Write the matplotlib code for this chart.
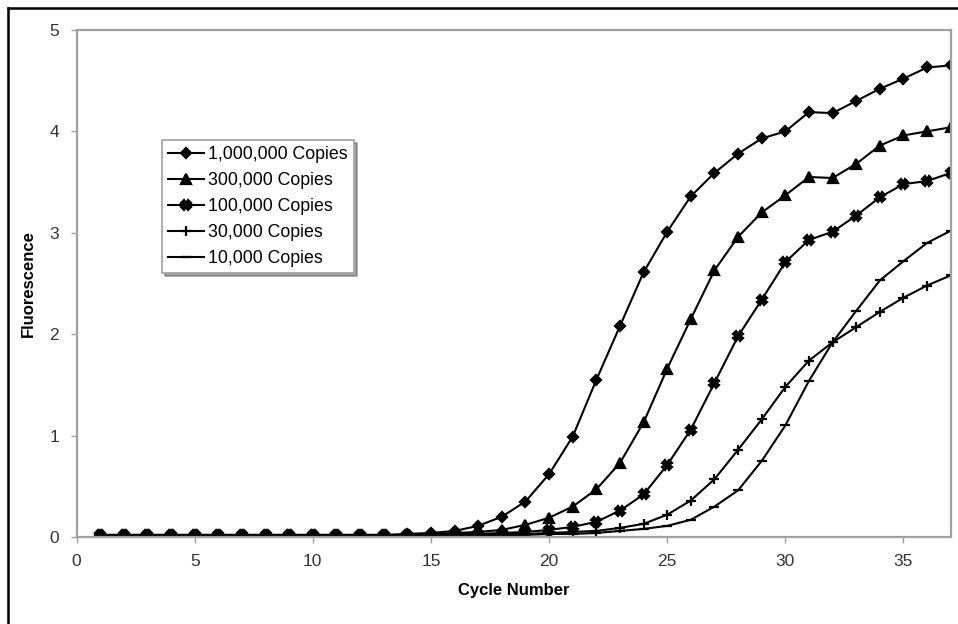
import numpy as np
import matplotlib.pyplot as plt
from matplotlib.lines import Line2D

plt.rcParams['font.family'] = ['Liberation Sans', 'DejaVu Sans']

cycles = list(range(1, 38))

copies_1m = [0.02, 0.02, 0.02, 0.02, 0.02, 0.02, 0.02, 0.02, 0.02, 0.02,
             0.02, 0.02, 0.02, 0.03, 0.04, 0.06, 0.11, 0.20, 0.35, 0.62,
             0.99, 1.55, 2.08, 2.61, 3.01, 3.36, 3.59, 3.78, 3.93, 4.00,
             4.19, 4.18, 4.30, 4.42, 4.52, 4.63, 4.65]
copies_300k = [0.02, 0.02, 0.02, 0.02, 0.02, 0.02, 0.02, 0.02, 0.02, 0.02,
               0.02, 0.02, 0.02, 0.02, 0.03, 0.04, 0.05, 0.07, 0.12, 0.19,
               0.30, 0.47, 0.73, 1.13, 1.66, 2.15, 2.63, 2.96, 3.20, 3.37,
               3.55, 3.54, 3.68, 3.86, 3.96, 4.00, 4.04]
copies_100k = [0.02, 0.02, 0.02, 0.02, 0.02, 0.02, 0.02, 0.02, 0.02, 0.02,
               0.02, 0.02, 0.02, 0.02, 0.02, 0.03, 0.03, 0.04, 0.05, 0.07,
               0.10, 0.15, 0.26, 0.42, 0.71, 1.06, 1.52, 1.98, 2.34, 2.71,
               2.93, 3.01, 3.17, 3.35, 3.48, 3.51, 3.59]
copies_30k = [0.02, 0.02, 0.02, 0.02, 0.02, 0.02, 0.02, 0.02, 0.02, 0.02,
              0.02, 0.02, 0.02, 0.02, 0.02, 0.02, 0.02, 0.03, 0.03, 0.04,
              0.05, 0.06, 0.09, 0.13, 0.22, 0.36, 0.57, 0.86, 1.16, 1.48,
              1.74, 1.92, 2.07, 2.22, 2.36, 2.48, 2.58]
copies_10k = [0.02, 0.02, 0.02, 0.02, 0.02, 0.02, 0.02, 0.02, 0.02, 0.02,
              0.02, 0.02, 0.02, 0.02, 0.02, 0.02, 0.02, 0.02, 0.02, 0.03,
              0.03, 0.04, 0.06, 0.08, 0.11, 0.17, 0.30, 0.46, 0.75, 1.10,
              1.54, 1.92, 2.23, 2.53, 2.72, 2.90, 3.02]

labels = ["1,000,000 Copies", "300,000 Copies", "100,000 Copies",
          "30,000 Copies", "10,000 Copies"]
series = [copies_1m, copies_300k, copies_100k, copies_30k, copies_10k]
markers = ["D", "^", "X", "+", "_"]
msizes = [5.5, 6.5, 6.5, 7, 7]

fig = plt.figure(figsize=(9.58, 6.24), dpi=100)
ax = fig.add_axes([0.0799, 0.1394, 0.9125, 0.8126])

for y, lab, m, ms in zip(series, labels, markers, msizes):
    ax.plot(cycles, y, color="black", lw=1.5, marker=m, ms=ms,
            mew=1.6, mfc="black", mec="black", label=lab)

ax.set_xlim(0, 37)
ax.set_ylim(0, 5)
ax.set_xticks([0, 5, 10, 15, 20, 25, 30, 35])
ax.set_yticks([0, 1, 2, 3, 4, 5])

for s in ax.spines.values():
    s.set_color("#a0a0a0")
    s.set_linewidth(1.6)

ax.tick_params(direction="out", length=4.5, width=1, color="#a0a0a0",
               labelsize=12.5, labelcolor="#333333", pad=8)

ax.set_xlabel("Cycle Number", fontsize=12, fontweight="bold", labelpad=10)
ax.set_ylabel("Fluorescence", fontsize=12, fontweight="bold", labelpad=10)

leg = ax.legend(loc="upper left", bbox_to_anchor=(162 / 958, 1 - 140 / 624),
                bbox_transform=fig.transFigure, fontsize=12.8,
                frameon=True, fancybox=False, shadow=True,
                handlelength=2.0, handletextpad=0.25, labelspacing=0.5,
                borderpad=0.35, borderaxespad=0)
leg.get_frame().set_edgecolor("#a0a0a0")
leg.get_frame().set_linewidth(1.2)

# outer black frame (left and top edges)
fig.add_artist(Line2D([8 / 958, 8 / 958], [0, 1 - 8 / 624], color="black",
                      lw=1.8, transform=fig.transFigure))
fig.add_artist(Line2D([8 / 958, 1], [1 - 8 / 624, 1 - 8 / 624], color="black",
                      lw=1.8, transform=fig.transFigure))

fig.savefig("out.png", dpi=100)
